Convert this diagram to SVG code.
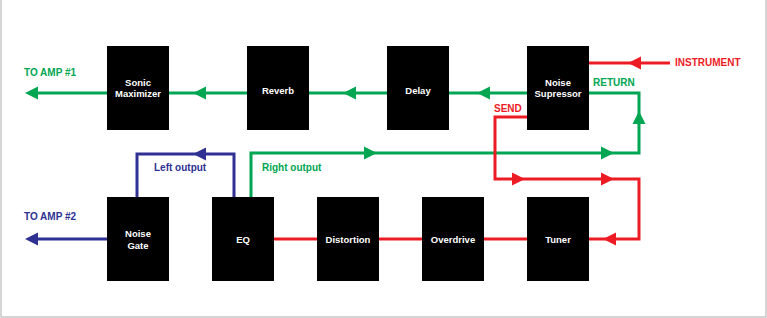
<svg xmlns="http://www.w3.org/2000/svg" xmlns:xlink="http://www.w3.org/1999/xlink" width="767" height="318" viewBox="0 0 767 318">
<style>
.box{fill:#000;}
.nt{fill:#fff;font-family:"Liberation Sans",Arial,sans-serif;font-weight:bold;font-size:9.5px;text-anchor:middle;}
.lbl{font-family:"Liberation Sans",Arial,sans-serif;font-weight:bold;font-size:10px;}
.g{stroke:#00a651;}
.r{stroke:#ed1c24;}
.b{stroke:#2e3192;}
.ln{fill:none;stroke-width:3;stroke-linejoin:miter;}
.gf{fill:#00a651;}
.rf{fill:#ed1c24;}
.bf{fill:#2e3192;}
</style>
<defs>
<polygon id="ah" points="0,0 -13,-6.5 -13,6.5"/>
</defs>
<rect x="0" y="0" width="767" height="318" fill="#fff"/>
<path d="M1,0 V317 H766 V0" fill="none" stroke="#c8c8c8" stroke-width="1.5"/>
<g id="connectors">
<path class="ln g" d="M30,93 H107 M169,93 H247 M309,93 H387 M449,93 H527"/>
<path class="ln g" d="M589,93 H639 V153 H251 V197"/>
<path class="ln b" d="M234,197 V154 H137 V197"/>
<path class="ln b" d="M107,239 H30"/>
<path class="ln r" d="M670,63 H589"/>
<path class="ln r" d="M527,117 H495 V179 H639 V239 H589"/>
<path class="ln r" d="M527,239 H484 M422,239 H379 M317,239 H274"/>
<g class="gf">
<use xlink:href="#ah" transform="translate(25,93) rotate(180)"/>
<use xlink:href="#ah" transform="translate(193,93) rotate(180)"/>
<use xlink:href="#ah" transform="translate(343,93) rotate(180)"/>
<use xlink:href="#ah" transform="translate(477,93) rotate(180)"/>
<use xlink:href="#ah" transform="translate(639,111) rotate(-90)"/>
<use xlink:href="#ah" transform="translate(377,153)"/>
<use xlink:href="#ah" transform="translate(614,153)"/>
</g>
<g class="bf">
<use xlink:href="#ah" transform="translate(25,239) rotate(180)"/>
<use xlink:href="#ah" transform="translate(193,154) rotate(180)"/>
</g>
<g class="rf">
<use xlink:href="#ah" transform="translate(628,63) rotate(180)"/>
<use xlink:href="#ah" transform="translate(525,179)"/>
<use xlink:href="#ah" transform="translate(614,179)"/>
<use xlink:href="#ah" transform="translate(603,239) rotate(180)"/>
</g>
<text class="lbl" x="24" y="76" fill="#00a651">TO AMP #1</text>
<text class="lbl" x="593" y="86" fill="#00a651">RETURN</text>
<text class="lbl" x="675" y="66" fill="#ed1c24">INSTRUMENT</text>
<text class="lbl" x="494" y="112" fill="#ed1c24">SEND</text>
<text class="lbl" x="154" y="171" fill="#2e3192">Left output</text>
<text class="lbl" x="262" y="171" fill="#00a651">Right output</text>
<text class="lbl" x="24" y="220" fill="#2e3192">TO AMP #2</text>
</g>
<g id="sonic-maximizer"><rect class="box" x="107" y="46" width="62" height="84"/><text class="nt" x="138" y="86">Sonic</text><text class="nt" x="138" y="97">Maximizer</text></g>
<g id="reverb"><rect class="box" x="247" y="46" width="62" height="84"/><text class="nt" x="278" y="93.5">Reverb</text></g>
<g id="delay"><rect class="box" x="387" y="46" width="62" height="84"/><text class="nt" x="418" y="93.5">Delay</text></g>
<g id="noise-supressor"><rect class="box" x="527" y="46" width="62" height="84"/><text class="nt" x="558" y="86">Noise</text><text class="nt" x="558" y="97">Supressor</text></g>
<g id="noise-gate"><rect class="box" x="107" y="197" width="62" height="84"/><text class="nt" x="138" y="236.5">Noise</text><text class="nt" x="138" y="248.5">Gate</text></g>
<g id="eq"><rect class="box" x="212" y="197" width="62" height="84"/><text class="nt" x="243" y="242.5">EQ</text></g>
<g id="distortion"><rect class="box" x="317" y="197" width="62" height="84"/><text class="nt" x="348" y="242.5">Distortion</text></g>
<g id="overdrive"><rect class="box" x="422" y="197" width="62" height="84"/><text class="nt" x="453" y="242.5">Overdrive</text></g>
<g id="tuner"><rect class="box" x="527" y="197" width="62" height="84"/><text class="nt" x="558" y="242.5">Tuner</text></g>
</svg>
